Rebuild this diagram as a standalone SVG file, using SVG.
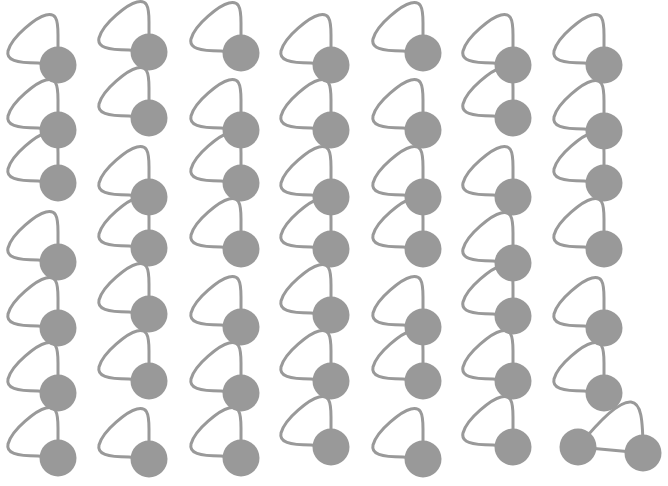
<svg xmlns="http://www.w3.org/2000/svg" xmlns:xlink="http://www.w3.org/1999/xlink" width="668" height="486" viewBox="0 0 668 486">
<style>
.edge{fill:none;stroke:#999999;stroke-width:3;stroke-linecap:round}
.node{fill:#999999}
</style>
<defs>
<path id="loop" class="edge" d="M 0 0 L 0 -30 C 0 -48 -3 -52 -12 -50 C -21 -48 -46 -29 -50 -14 C -52 -5 -42 -2 -20 -2 L 0 0"/>
</defs>
<rect width="668" height="486" fill="#ffffff"/>
<g id="edges">
<use href="#loop" x="58" y="65"/><use href="#loop" x="58" y="130"/><use href="#loop" x="58" y="183"/><use href="#loop" x="58" y="262"/><use href="#loop" x="58" y="328"/><use href="#loop" x="58" y="393"/><use href="#loop" x="58" y="458"/>
<use href="#loop" x="149" y="52"/><use href="#loop" x="149" y="118"/><use href="#loop" x="149" y="197"/><use href="#loop" x="149" y="248"/><use href="#loop" x="149" y="314"/><use href="#loop" x="149" y="381"/><use href="#loop" x="149" y="459"/>
<use href="#loop" x="241" y="53"/><use href="#loop" x="241" y="130"/><use href="#loop" x="241" y="183"/><use href="#loop" x="241" y="249"/><use href="#loop" x="241" y="327"/><use href="#loop" x="241" y="393"/><use href="#loop" x="241" y="458"/>
<use href="#loop" x="331" y="65"/><use href="#loop" x="331" y="130"/><use href="#loop" x="331" y="197"/><use href="#loop" x="331" y="249"/><use href="#loop" x="331" y="315"/><use href="#loop" x="331" y="381"/><use href="#loop" x="331" y="447"/>
<use href="#loop" x="423" y="53"/><use href="#loop" x="423" y="130"/><use href="#loop" x="423" y="197"/><use href="#loop" x="423" y="249"/><use href="#loop" x="423" y="327"/><use href="#loop" x="423" y="381"/><use href="#loop" x="423" y="459"/>
<use href="#loop" x="513" y="65"/><use href="#loop" x="513" y="118"/><use href="#loop" x="513" y="197"/><use href="#loop" x="513" y="263"/><use href="#loop" x="513" y="316"/><use href="#loop" x="513" y="381"/><use href="#loop" x="513" y="447"/>
<use href="#loop" x="604" y="65"/><use href="#loop" x="604" y="131"/><use href="#loop" x="604" y="183"/><use href="#loop" x="604" y="249"/><use href="#loop" x="604" y="328"/><use href="#loop" x="604" y="393"/>
<path class="edge" d="M 578 447 L 643 453"/>
<path class="edge" d="M 578 447 C 603 416 621 401 631 402 C 641 403 643 418 643 453"/>
</g>
<g id="nodes">
<g id="n1_1"><circle class="node" cx="58" cy="65" r="18.5"/></g>
<g id="n1_2"><circle class="node" cx="58" cy="130" r="18.5"/></g>
<g id="n1_3"><circle class="node" cx="58" cy="183" r="18.5"/></g>
<g id="n1_4"><circle class="node" cx="58" cy="262" r="18.5"/></g>
<g id="n1_5"><circle class="node" cx="58" cy="328" r="18.5"/></g>
<g id="n1_6"><circle class="node" cx="58" cy="393" r="18.5"/></g>
<g id="n1_7"><circle class="node" cx="58" cy="458" r="18.5"/></g>
<g id="n2_1"><circle class="node" cx="149" cy="52" r="18.5"/></g>
<g id="n2_2"><circle class="node" cx="149" cy="118" r="18.5"/></g>
<g id="n2_3"><circle class="node" cx="149" cy="197" r="18.5"/></g>
<g id="n2_4"><circle class="node" cx="149" cy="248" r="18.5"/></g>
<g id="n2_5"><circle class="node" cx="149" cy="314" r="18.5"/></g>
<g id="n2_6"><circle class="node" cx="149" cy="381" r="18.5"/></g>
<g id="n2_7"><circle class="node" cx="149" cy="459" r="18.5"/></g>
<g id="n3_1"><circle class="node" cx="241" cy="53" r="18.5"/></g>
<g id="n3_2"><circle class="node" cx="241" cy="130" r="18.5"/></g>
<g id="n3_3"><circle class="node" cx="241" cy="183" r="18.5"/></g>
<g id="n3_4"><circle class="node" cx="241" cy="249" r="18.5"/></g>
<g id="n3_5"><circle class="node" cx="241" cy="327" r="18.5"/></g>
<g id="n3_6"><circle class="node" cx="241" cy="393" r="18.5"/></g>
<g id="n3_7"><circle class="node" cx="241" cy="458" r="18.5"/></g>
<g id="n4_1"><circle class="node" cx="331" cy="65" r="18.5"/></g>
<g id="n4_2"><circle class="node" cx="331" cy="130" r="18.5"/></g>
<g id="n4_3"><circle class="node" cx="331" cy="197" r="18.5"/></g>
<g id="n4_4"><circle class="node" cx="331" cy="249" r="18.5"/></g>
<g id="n4_5"><circle class="node" cx="331" cy="315" r="18.5"/></g>
<g id="n4_6"><circle class="node" cx="331" cy="381" r="18.5"/></g>
<g id="n4_7"><circle class="node" cx="331" cy="447" r="18.5"/></g>
<g id="n5_1"><circle class="node" cx="423" cy="53" r="18.5"/></g>
<g id="n5_2"><circle class="node" cx="423" cy="130" r="18.5"/></g>
<g id="n5_3"><circle class="node" cx="423" cy="197" r="18.5"/></g>
<g id="n5_4"><circle class="node" cx="423" cy="249" r="18.5"/></g>
<g id="n5_5"><circle class="node" cx="423" cy="327" r="18.5"/></g>
<g id="n5_6"><circle class="node" cx="423" cy="381" r="18.5"/></g>
<g id="n5_7"><circle class="node" cx="423" cy="459" r="18.5"/></g>
<g id="n6_1"><circle class="node" cx="513" cy="65" r="18.5"/></g>
<g id="n6_2"><circle class="node" cx="513" cy="118" r="18.5"/></g>
<g id="n6_3"><circle class="node" cx="513" cy="197" r="18.5"/></g>
<g id="n6_4"><circle class="node" cx="513" cy="263" r="18.5"/></g>
<g id="n6_5"><circle class="node" cx="513" cy="316" r="18.5"/></g>
<g id="n6_6"><circle class="node" cx="513" cy="381" r="18.5"/></g>
<g id="n6_7"><circle class="node" cx="513" cy="447" r="18.5"/></g>
<g id="n7_1"><circle class="node" cx="604" cy="65" r="18.5"/></g>
<g id="n7_2"><circle class="node" cx="604" cy="131" r="18.5"/></g>
<g id="n7_3"><circle class="node" cx="604" cy="183" r="18.5"/></g>
<g id="n7_4"><circle class="node" cx="604" cy="249" r="18.5"/></g>
<g id="n7_5"><circle class="node" cx="604" cy="328" r="18.5"/></g>
<g id="n7_6"><circle class="node" cx="604" cy="393" r="18.5"/></g>
<g id="n7_7"><circle class="node" cx="578" cy="447" r="18.5"/></g>
<g id="n7_8"><circle class="node" cx="643" cy="453" r="18.5"/></g>
</g>
</svg>
